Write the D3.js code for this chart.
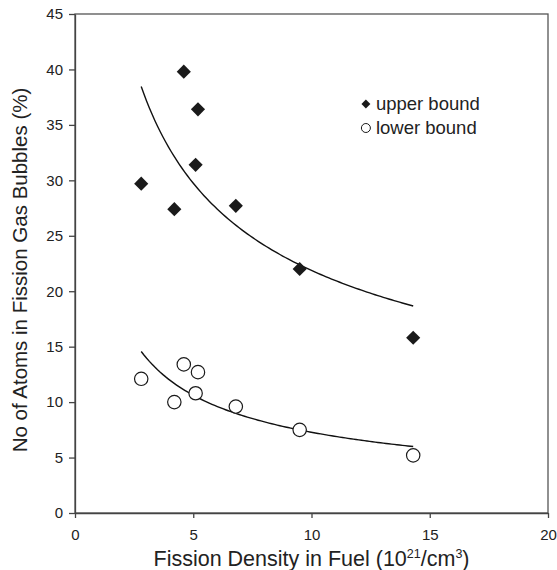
<!DOCTYPE html>
<meta charset="utf-8">
<style>

body {
  margin: 0;
  background: #fff;
}

svg {
  font-family: "Liberation Sans", Arial, sans-serif;
}

.axis path,
.axis line {
  stroke: #444;
  stroke-width: 1.3;
}

.axis text {
  font-size: 15px;
  fill: #222;
}

.frame {
  fill: none;
  stroke: #555;
  stroke-width: 1.3;
}

.fit {
  fill: none;
  stroke: #111;
  stroke-width: 1.4;
}

</style>
<svg width="557" height="570"></svg>
<script src="https://d3js.org/d3.v7.min.js"></script>
<script>

// fission density in fuel (10^21/cm^3)
var density = [2.8, 4.6, 5.2, 5.1, 4.2, 6.8, 9.5, 14.3];
// atoms in fission gas bubbles (%)
var upperBound = [29.7, 39.8, 36.4, 31.4, 27.4, 27.7, 22.0, 15.8];
var lowerBound = [12.1, 13.4, 12.7, 10.8, 10.0, 9.6, 7.5, 5.2];

var xTicks = [0, 5, 10, 15, 20];
var yTicks = [0, 5, 10, 15, 20, 25, 30, 35, 40, 45];

var svg = d3.select("svg"),
    margin = {top: 14, right: 9, bottom: 57, left: 75},
    width = +svg.attr("width") - margin.left - margin.right,
    height = +svg.attr("height") - margin.top - margin.bottom;

var g = svg.append("g")
    .attr("transform", "translate(" + margin.left + "," + margin.top + ")");

var x = d3.scaleLinear().domain([0, 20]).range([0, width]);
var y = d3.scaleLinear().domain([0, 45]).range([height, 0]);

g.append("rect")
    .attr("class", "frame")
    .attr("width", width)
    .attr("height", height);

g.append("g")
    .attr("class", "axis")
    .attr("transform", "translate(0," + height + ")")
    .call(d3.axisBottom(x).tickValues(xTicks).tickSize(5).tickPadding(11).tickSizeOuter(0));

g.append("g")
    .attr("class", "axis")
    .call(d3.axisLeft(y).tickValues(yTicks).tickSize(6).tickPadding(6).tickSizeOuter(0));

// power-law trend line, least squares in log space
function powerFit(xs, ys) {
  var lx = xs.map(Math.log), ly = ys.map(Math.log),
      mx = d3.mean(lx), my = d3.mean(ly),
      sxy = d3.sum(lx, function(v, i) { return (v - mx) * (ly[i] - my); }),
      sxx = d3.sum(lx, function(v) { return (v - mx) * (v - mx); }),
      b = sxy / sxx,
      a = Math.exp(my - b * mx);
  var ext = d3.extent(xs);
  return d3.range(0, 101).map(function(i) {
    var xv = ext[0] + (ext[1] - ext[0]) * i / 100;
    return [xv, a * Math.pow(xv, b)];
  });
}

var line = d3.line()
    .x(function(d) { return x(d[0]); })
    .y(function(d) { return y(d[1]); });

[upperBound, lowerBound].forEach(function(s) {
  g.append("path")
      .attr("class", "fit")
      .attr("d", line(powerFit(density, s)));
});

var diamond = d3.symbol().type(d3.symbolSquare).size(100);

g.selectAll(".upper")
    .data(upperBound)
  .enter().append("path")
    .attr("class", "upper")
    .attr("d", diamond)
    .attr("transform", function(d, i) { return "translate(" + x(density[i]) + "," + y(d) + ") rotate(45)"; })
    .attr("fill", "#1a1a1a");

g.selectAll(".lower")
    .data(lowerBound)
  .enter().append("circle")
    .attr("class", "lower")
    .attr("cx", function(d, i) { return x(density[i]); })
    .attr("cy", function(d) { return y(d); })
    .attr("r", 6.7)
    .attr("fill", "#fff")
    .attr("stroke", "#1a1a1a")
    .attr("stroke-width", 1.2);

// legend
var legend = g.append("g")
    .attr("transform", "translate(" + x(12.3) + "," + (104 - margin.top) + ")");

legend.append("path")
    .attr("d", d3.symbol().type(d3.symbolSquare).size(40))
    .attr("transform", "rotate(45)")
    .attr("fill", "#1a1a1a");

legend.append("circle")
    .attr("cy", 24)
    .attr("r", 4.5)
    .attr("fill", "#fff")
    .attr("stroke", "#1a1a1a")
    .attr("stroke-width", 1);

legend.selectAll("text")
    .data(["upper bound", "lower bound"])
  .enter().append("text")
    .attr("x", 10)
    .attr("y", function(d, i) { return i * 24; })
    .attr("dy", "0.35em")
    .style("font-size", "18.5px")
    .attr("fill", "#222")
    .text(function(d) { return d; });

// axis titles
var xTitle = svg.append("text")
    .attr("x", margin.left + width / 2)
    .attr("y", 566)
    .attr("text-anchor", "middle")
    .style("font-size", "21.5px")
    .attr("fill", "#222");
xTitle.append("tspan").text("Fission Density in Fuel (10");
xTitle.append("tspan").attr("dy", -8).style("font-size", "12.5px").text("21");
xTitle.append("tspan").attr("dy", 8).text("/cm");
xTitle.append("tspan").attr("dy", -8).style("font-size", "12.5px").text("3");
xTitle.append("tspan").attr("dy", 8).text(")");

svg.append("text")
    .attr("transform", "translate(27,270) rotate(-90)")
    .attr("text-anchor", "middle")
    .style("font-size", "20.5px")
    .attr("fill", "#222")
    .text("No of Atoms in Fission Gas Bubbles (%)");

</script>
